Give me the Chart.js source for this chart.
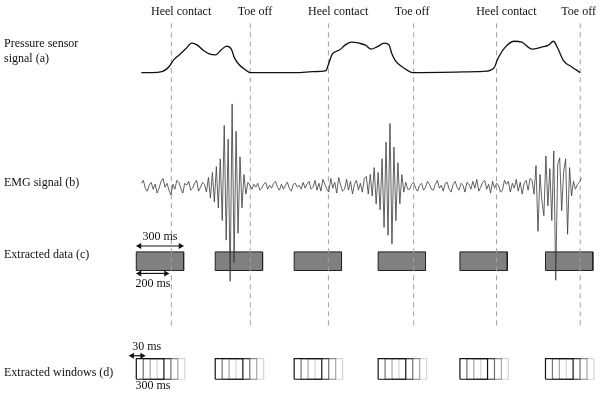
<!DOCTYPE html>
<html>
<head>
<meta charset="utf-8">
<script src="https://cdn.jsdelivr.net/npm/chart.js@4"></script>
<style>
  html, body { margin: 0; padding: 0; background: #fff; }
  #wrap { width: 600px; height: 395px; position: relative; }
</style>
</head>
<body>
<div id="wrap"><canvas id="gait"></canvas></div>
<script>
// x is time in ms, y is an arbitrary vertical unit (tracks stacked top to bottom)

// gait events
var heelContact = [1060, 2055, 3120];
var toeOff = [1560, 2595, 3650];

// pressure sensor signal (a): time / height above its baseline
var pressureT = [870, 940, 1000, 1025, 1050, 1075, 1110, 1150, 1190, 1225,
  1260, 1300, 1340, 1375, 1410, 1440, 1460, 1490, 1520, 1560,
  1875, 1950, 2040, 2050, 2080, 2125, 2160, 2200, 2250, 2290,
  2325, 2360, 2410, 2440, 2455, 2480, 2530, 2590, 3000, 3060,
  3105, 3125, 3170, 3230, 3280, 3345, 3405, 3450, 3480, 3510,
  3545, 3595, 3650];
var pressureV = [0, 0, 1, 3, 7, 13, 18, 24, 30, 28,
  23, 19, 18, 23, 27, 24, 15, 8, 4, 0,
  0, 1, 2, 6, 19, 23, 28, 31, 30, 28,
  24, 26, 30, 28, 20, 12, 5, 0, 1, 1.5,
  5, 13, 25, 32, 31, 24, 26, 28, 32, 24,
  12, 6, 0];

// EMG signal (b): sampled every emgStep ms from emgStart
var emgStart = 870;
var emgStep = 12.5;
var emgV = [
  3, 6, -2, -5, 1, 4, -3, 2, -7, -2, 5, 8, -1, 3, -4, -9, 2, -3, 6, 4,
  -2, -7, 3, 1, 5, -4, -2, 3, 6, -5, -1, 4, 2, -6,
  9, -12, 14, -16, 20, -22, 28, -35, 62, -55, 48, -97, 84, -78, 56, -48, 30, -22, 12, -8,
  4, 1, -3, 2, -1, 3, -4, -2, 2, 4, -3, 1, -2, 3, 5, -1, -4, 2, -3, 1,
  4, -2, -5, 2, 3, -1, 1, -3, 4, -2, 2, 5, -3, -1, 6, -4, 3, -5, 7, 2,
  -3, -6, 8, -2, 4, -7, 9, 1, -5, -3, 7, -4, 5, -8, 2, 6, -4, 3, -6, 8,
  10, -8, 12, -10, 19, -18, 14, -24, 28, -42, 45, -50, 64, -59, 40, -35, 24, -18, 12, -6, 4, -3,
  -3, 2, 4, -2, -5, 1, 3, -4, -1, 5, 2, -3, -4, 2, 6, -2, 1, -5, 3, 4,
  -3, -6, 2, 5, -1, -4, 3, 1, -6, 4, 2, -3, 5, -2, 7, -5, -1, 4, 6, -3,
  2, -7, 5, -2, 3, 1, -6, -4, 6, 2, 5, -6, 3, -2, 7, -5, 4, -8, 3, 6, -4, 8,
  6, -8, 21, -46, 12, -15, -30, 31, -20, 18, -35, 36, -96, 22, 29, -25, 15, 28, -49, 19,
  -10, 5, -3, 2, 4, 8
];

// extracted data (c) and windows (d)
var boxStart = [838, 1338, 1838, 2370, 2888, 3430];
var boxLength = 300;
var winLength = 175;
var winShift = 44;
var winAlpha = [1, 0.6, 0.38, 0.18];

// track levels (y units)
var pressureBase = 325;
var emgBase = 209;
var boxLow = 123, boxHigh = 142;
var winLow = 12, winHigh = 33;
var eventLow = 67, eventHigh = 377;

var textItems = [
  { t: 'Pressure sensor', x: 0, y: 354, align: 'left' },
  { t: 'signal (a)', x: 0, y: 339, align: 'left' },
  { t: 'EMG signal (b)', x: 0, y: 212, align: 'left' },
  { t: 'Extracted data (c)', x: 0, y: 139, align: 'left' },
  { t: 'Extracted windows (d)', x: 0, y: 19, align: 'left' },
  { t: '300 ms', x: 988, y: 157, align: 'center' },
  { t: '200 ms', x: 944, y: 109, align: 'center' },
  { t: '30 ms', x: 812, y: 45, align: 'left' },
  { t: '300 ms', x: 944, y: 5, align: 'center' }
];
heelContact.forEach(function (h) { textItems.push({ t: 'Heel contact', x: h + 62, y: 387, align: 'center' }); });
toeOff.forEach(function (h) { textItems.push({ t: 'Toe off', x: h + 30, y: 387, align: 'center' }); });
textItems[textItems.length - 1].x = 3640;
textItems[textItems.length - 2].x = 2585;

var datasets = [];

// EMG on top
datasets.push({
  data: emgV.map(function (v, i) { return { x: emgStart + i * emgStep, y: emgBase + v }; }),
  borderColor: '#3a3a3a', borderWidth: 0.8, pointRadius: 0, tension: 0, order: 0
});

datasets.push({
  data: pressureT.map(function (t, i) { return { x: t, y: pressureBase + pressureV[i] }; }),
  borderColor: '#111', borderWidth: 1.3, pointRadius: 0, cubicInterpolationMode: 'monotone', order: 1
});

heelContact.concat(toeOff).forEach(function (t) {
  datasets.push({
    data: [{ x: t, y: eventLow }, { x: t, y: eventHigh }],
    borderColor: '#a0a0a0', borderWidth: 1, borderDash: [5, 4], pointRadius: 0, order: 1
  });
});

boxStart.forEach(function (s) {
  var e = s + boxLength;
  datasets.push({
    data: [{ x: s, y: boxLow }, { x: s, y: boxHigh }, { x: e, y: boxHigh }, { x: e, y: boxLow }, { x: s, y: boxLow }],
    borderColor: '#222', borderWidth: 1, backgroundColor: '#808080', fill: 'shape',
    pointRadius: 0, tension: 0, order: 2
  });
  winAlpha.forEach(function (a, k) {
    var ws = s + k * winShift, we = ws + winLength;
    datasets.push({
      data: [{ x: ws, y: winLow }, { x: ws, y: winHigh }, { x: we, y: winHigh }, { x: we, y: winLow }, { x: ws, y: winLow }],
      borderColor: 'rgba(20,20,20,' + a + ')', borderWidth: 1.2, pointRadius: 0, tension: 0, fill: false, order: 2
    });
  });
});

// double-headed arrows
function arrow(x0, x1, y) {
  datasets.push({
    data: [{ x: x0, y: y }, { x: x1, y: y }],
    borderColor: '#111', borderWidth: 1.2, pointStyle: 'triangle',
    pointRotation: [-90, 90], pointRadius: 3.5, pointBackgroundColor: '#111',
    pointBorderColor: '#111', pointBorderWidth: 0, order: 0
  });
}
arrow(boxStart[0] + 20, boxStart[0] + boxLength - 20, 148);
arrow(boxStart[0] + 20, boxStart[0] + 200 - 12, 120);
arrow(812, 875, 36);

var textPlugin = {
  id: 'texts',
  afterDraw: function (chart) {
    var ctx = chart.ctx, xs = chart.scales.x, ys = chart.scales.y;
    ctx.save();
    ctx.font = '12px "Liberation Serif", "DejaVu Serif", serif';
    ctx.fillStyle = '#111';
    ctx.textBaseline = 'middle';
    textItems.forEach(function (it) {
      ctx.textAlign = it.align;
      ctx.fillText(it.t, xs.getPixelForValue(it.x), ys.getPixelForValue(it.y));
    });
    ctx.restore();
  }
};

new Chart(document.getElementById('gait'), {
  type: 'line',
  data: { datasets: datasets },
  options: {
    responsive: true,
    maintainAspectRatio: false,
    animation: false,
    events: [],
    devicePixelRatio: 1,
    layout: { padding: 0 },
    scales: {
      x: { type: 'linear', min: 0, max: 3750, display: false },
      y: { type: 'linear', min: 0, max: 395, display: false }
    },
    plugins: { legend: { display: false }, tooltip: { enabled: false } }
  },
  plugins: [textPlugin]
});
</script>
</body>
</html>
